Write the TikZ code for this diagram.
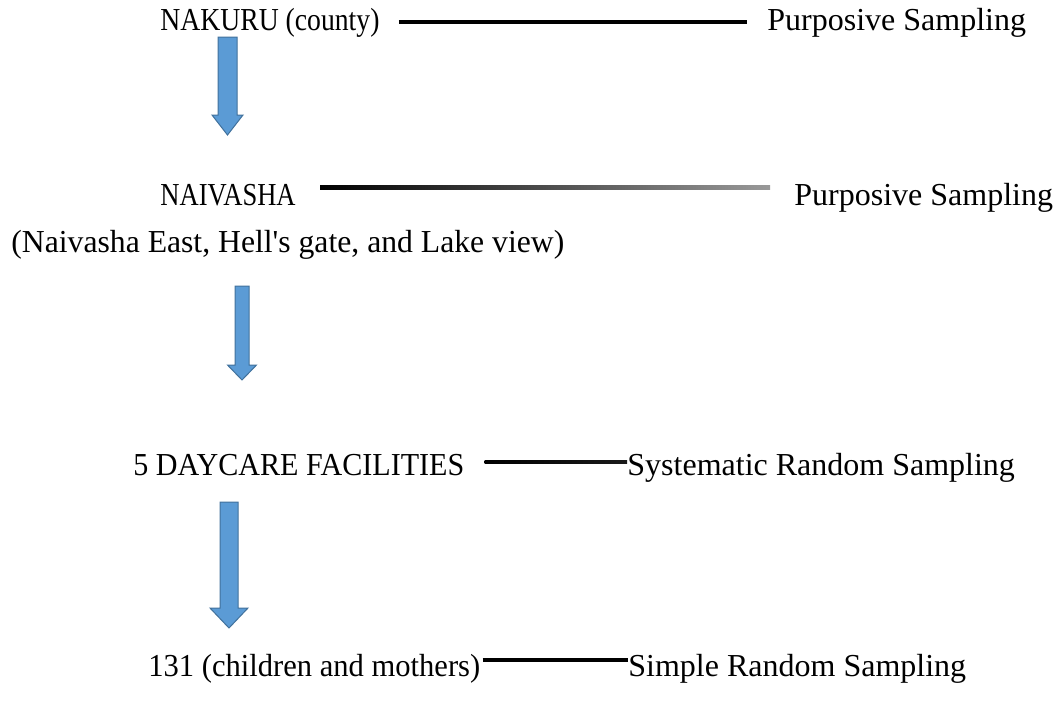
\documentclass[tikz,border=0pt]{standalone}
\usepackage{fontspec}
\setmainfont{Liberation Serif}[Ligatures=TeXOff]
\usetikzlibrary{calc}

\definecolor{arrowblue}{RGB}{91,155,213}
\definecolor{arrowedge}{RGB}{65,113,156}

\newcommand{\narrow}[2]{\scalebox{#1}[1]{#2}}

\tikzset{
  lbl/.style={anchor=base west, inner sep=0pt, font=\fontsize{16}{19}\selectfont},
  link/.style={line width=2pt, black},
  flow/.style={fill=arrowblue, draw=arrowedge, line width=0.5pt, line join=miter}
}

\begin{document}
\begin{tikzpicture}[x=0.5pt,y=-0.5pt]
\useasboundingbox (0,0) rectangle (1059,703);

% labels, left column
\node[lbl] (nakuru) at (160,30) {\narrow{0.865}{NAKURU (county)}};
\node[lbl] (naiv) at (160,205) {\narrow{0.83}{NAIVASHA}};
\node[lbl] (wards) at (11,252) {\narrow{0.99}{(Naivasha East, Hell's gate, and Lake view)}};
\node[lbl] (daycare) at (133,475) {\narrow{0.94}{5 DAYCARE FACILITIES}};
\node[lbl] (pop) at (148,676) {\narrow{0.955}{131 (children and mothers)}};

% labels, right column
\node[lbl] (purp1) at (767,30) {Purposive Sampling};
\node[lbl] (purp2) at (794,205) {Purposive Sampling};
\node[lbl] (sysran) at (627,475) {Systematic Random Sampling};
\node[lbl] (simran) at (628,676) {Simple Random Sampling};

% connectors
\draw[link] ($(nakuru.base east)+(19,-8)$) -- ($(purp1.base west)+(-20,-8)$);
\shade[left color=black, middle color=black!80, right color=black!40]
  ($(naiv.base east)+(24,-19.5)$) rectangle ($(purp2.base west)+(-24,-15.5)$);
\shade[left color=black, middle color=black!45, right color=black!90]
  ($(daycare.base east)+(20,-15)$) rectangle ($(sysran.base west)+(0,-11.5)$);
\draw[link] ($(pop.base east)+(2,-16)$) -- (simran.base west |- 0,660);

% block arrows
\draw[flow] (218,37) -- (237,37) -- (237,115) -- (243,115) -- (227.5,135)
  -- (212,115) -- (218,115) -- cycle;
\draw[flow] (235,286) -- (249,286) -- (249,365) -- (256.5,365) -- (242,380)
  -- (227.5,365) -- (235,365) -- cycle;
\draw[flow] (220,502) -- (238,502) -- (238,608) -- (248,608) -- (229,628)
  -- (210,608) -- (220,608) -- cycle;

\end{tikzpicture}
\end{document}
